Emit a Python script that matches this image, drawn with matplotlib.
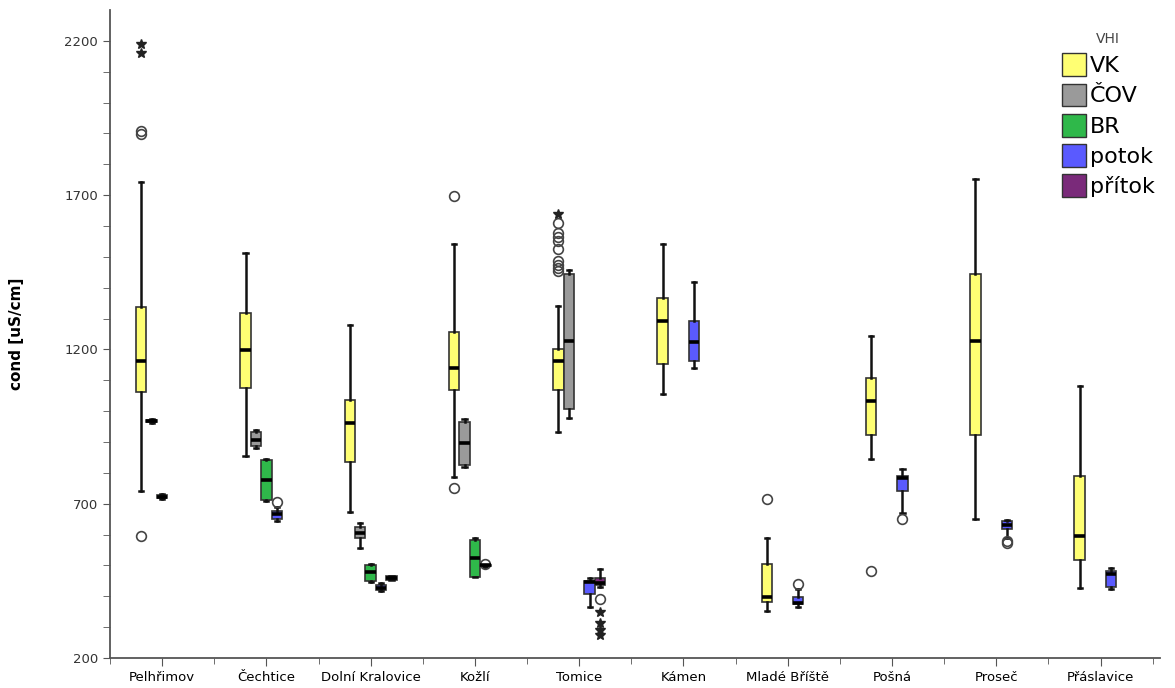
import numpy as np
import matplotlib
matplotlib.use('Agg')
import matplotlib.pyplot as plt
from matplotlib.patches import Patch

# sites on the x axis
sites = ['Pelhřimov', 'Čechtice', 'Dolní Kralovice', 'Kožlí', 'Tomice',
         'Kámen', 'Mladé Bříště', 'Pošná', 'Proseč', 'Přáslavice']
groups = ['VK', 'ČOV', 'BR', 'potok', 'přítok']
colors = ['#ffff73', '#9a9a9a', '#2fb84a', '#5a5aff', '#7a2a7a']

# box stats per site: (whisker low, q1, median, q3, whisker high), None = no data
vk = [(740, 1062, 1162, 1337, 1741), (856, 1076, 1197, 1317, 1513),
      (673, 836, 961, 1037, 1278), (787, 1067, 1141, 1256, 1543),
      (932, 1067, 1162, 1202, 1342), (1057, 1154, 1292, 1367, 1542),
      (352, 380, 398, 504, 589), (846, 922, 1032, 1109, 1242),
      (652, 924, 1226, 1443, 1753), (427, 519, 595, 790, 1083)]
cov = [(963, 966, 969, 972, 975), (882, 886, 908, 932, 938),
       (555, 589, 605, 625, 638), (819, 825, 897, 965, 973),
       (979, 1006, 1226, 1443, 1456), None, None, None, None, None]
br = [(714, 717, 722, 727, 731), (708, 711, 778, 843, 846),
      (447, 450, 479, 503, 506), (463, 463, 523, 584, 590),
      None, None, None, None, None, None]
potok = [None, (645, 649, 668, 677, 688), (417, 420, 428, 436, 442),
         (495, 497, 500, 503, 503), (364, 407, 447, 450, 458),
         (1139, 1163, 1225, 1291, 1417), (366, 374, 379, 398, 425),
         (670, 740, 782, 790, 811), (590, 617, 630, 643, 647),
         (422, 431, 472, 482, 492)]
pritok = [None, None, (452, 452, 459, 465, 465), None,
          (429, 436, 444, 458, 488), None, None, None, None, None]

# outliers (circles) and extremes (stars) per site
vk_circ = {0: [596, 1899, 1909], 3: [751, 1698],
           4: [1455, 1464, 1472, 1488, 1526, 1553, 1563, 1576, 1609],
           6: [715], 7: [482]}
vk_star = {0: [2162, 2191], 4: [1639]}
potok_circ = {1: [706], 3: [506], 6: [439], 7: [650], 8: [573, 580]}
pritok_circ = {4: [391]}
pritok_star = {4: [350, 312, 291, 274]}

all_stats = [vk, cov, br, potok, pritok]
all_circ = [vk_circ, {}, {}, potok_circ, pritok_circ]
all_star = [vk_star, {}, {}, {}, pritok_star]

fig = plt.figure(figsize=(11.75, 6.88), dpi=100)
ax = fig.add_axes([110 / 1175, 30 / 688, 1050 / 1175, 648 / 688])

offsets = [-0.2, -0.1, 0.0, 0.1, 0.2]
w = 0.1
for g in range(5):
    st, pos = [], []
    for i, s in enumerate(all_stats[g]):
        if s is None:
            continue
        st.append(dict(whislo=s[0], q1=s[1], med=s[2], q3=s[3], whishi=s[4], fliers=[]))
        pos.append(i + offsets[g])
    ax.bxp(st, positions=pos, widths=w, patch_artist=True, showfliers=False,
           boxprops=dict(facecolor=colors[g], edgecolor='#333333', linewidth=1.2),
           medianprops=dict(color='black', linewidth=2.6),
           whiskerprops=dict(color='#111111', linewidth=1.8),
           capprops=dict(color='#111111', linewidth=1.8), capwidths=0.04)
    for i, vals in all_circ[g].items():
        ax.plot([i + offsets[g]] * len(vals), vals, 'o', mfc='none', mec='#444444',
                ms=7, mew=1.2)
    for i, vals in all_star[g].items():
        ax.plot([i + offsets[g]] * len(vals), vals, '*', color='#222222', ms=7)

ax.set_xlim(-0.5, 9.57)
ax.set_ylim(200, 2300)
ax.set_xticks(range(len(sites)))
ax.set_xticklabels(sites, fontsize=9.5)
ax.set_xticks(np.arange(-0.5, 9.6, 1), minor=True)
ax.set_yticks([200, 700, 1200, 1700, 2200])
ax.set_yticks(np.arange(200, 2300, 100), minor=True)
ax.tick_params(axis='y', labelsize=9.5, labelcolor='#333333', length=5, color='#555555')
ax.tick_params(axis='y', which='minor', length=5, color='#555555')
ax.tick_params(axis='x', length=6, color='#555555')
ax.tick_params(axis='x', which='minor', length=4, color='#555555')
ax.spines['top'].set_visible(False)
ax.spines['right'].set_visible(False)
ax.spines['left'].set_color('#555555')
ax.spines['bottom'].set_color('#555555')
ax.spines['left'].set_linewidth(1.3)
ax.spines['bottom'].set_linewidth(1.3)
ax.set_ylabel('cond [uS/cm]', fontsize=11, fontweight='bold')
ax.yaxis.set_label_coords(-0.082, 0.5)

handles = [Patch(facecolor=c, edgecolor='#333333', label=l) for c, l in zip(colors, groups)]
leg = fig.legend(handles=handles, title='VHI', loc='upper left',
                 bbox_to_anchor=(1042 / 1175, 1 - 12 / 688), frameon=False,
                 fontsize=16, title_fontsize=10, handlelength=1.1, handleheight=1.2,
                 handletextpad=0.15, labelspacing=0.33)
leg.get_title().set_color('#444444')

fig.savefig('out.png', dpi=100)
